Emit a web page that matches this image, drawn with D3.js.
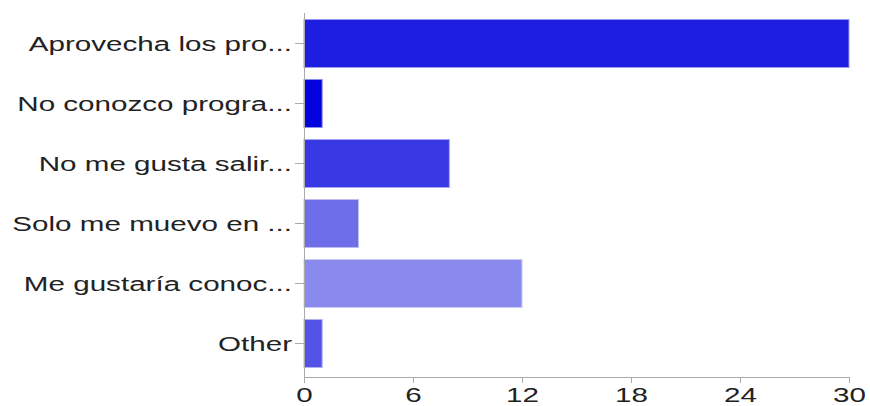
<!DOCTYPE html>
<html>
<head>
<meta charset="utf-8">
<script src="https://cdn.jsdelivr.net/npm/d3@7"></script>
<style>
  html, body { margin: 0; padding: 0; background: #fff; }
  svg { display: block; }
  text { font-family: "Liberation Sans", Arial, Helvetica, sans-serif; fill: #222; }
</style>
</head>
<body>
<svg id="chart" width="870" height="406"></svg>
<script>
const categories = [
  "Aprovecha los pro...",
  "No conozco progra...",
  "No me gusta salir...",
  "Solo me muevo en ...",
  "Me gustaría conoc...",
  "Other"
];
const values = [30, 1, 8, 3, 12, 1];
const barColors = ["#1e1ee0", "#0202dc", "#3838e4", "#6e6ee9", "#8a8aee", "#5252e7"];
const xTicks = [0, 6, 12, 18, 24, 30];

const svg = d3.select("#chart");
const stretch = 1.41;
const fontSize = 21;

const x = d3.scaleLinear().domain([0, 30]).range([304, 849]);
const y = d3.scaleBand().domain(categories).range([13, 377])
  .paddingInner(0.2).paddingOuter(0.133).align(0.406);

const data = categories.map((c, i) => ({ c, v: values[i], col: barColors[i] }));

// bars
svg.append("g").selectAll("rect").data(data).join("rect")
  .attr("x", x(0))
  .attr("y", d => y(d.c))
  .attr("width", d => x(d.v) - x(0))
  .attr("height", y.bandwidth())
  .attr("fill", d => d.col)
  .attr("stroke", d => d3.interpolateRgb(d.col, "#ffffff")(0.55))
  .attr("stroke-width", 1);

// y axis
const yAxis = svg.append("g")
  .attr("transform", `translate(${x(0)},0)`)
  .call(d3.axisLeft(y).tickSizeInner(9).tickSizeOuter(0).tickPadding(3));
yAxis.select(".domain").attr("stroke", "#aaa").attr("d", `M0.5,13V377`);
yAxis.selectAll(".tick line").attr("stroke", "#aaa");
yAxis.selectAll(".tick text")
  .attr("x", null).attr("dy", "0.34em")
  .attr("transform", `translate(-12,0) scale(${stretch},1)`)
  .style("font-size", fontSize + "px")
  .attr("fill", "#222");

// x axis
const xAxis = svg.append("g")
  .attr("transform", `translate(0,377)`)
  .call(d3.axisBottom(x).tickValues(xTicks).tickFormat(d3.format("d")).tickSizeInner(6).tickSizeOuter(0).tickPadding(4));
xAxis.select(".domain").attr("stroke", "#aaa");
xAxis.selectAll(".tick line").attr("stroke", "#aaa");
xAxis.selectAll(".tick text")
  .attr("transform", `scale(${stretch},1)`)
  .style("font-size", fontSize + "px")
  .attr("fill", "#222");
</script>
</body>
</html>
